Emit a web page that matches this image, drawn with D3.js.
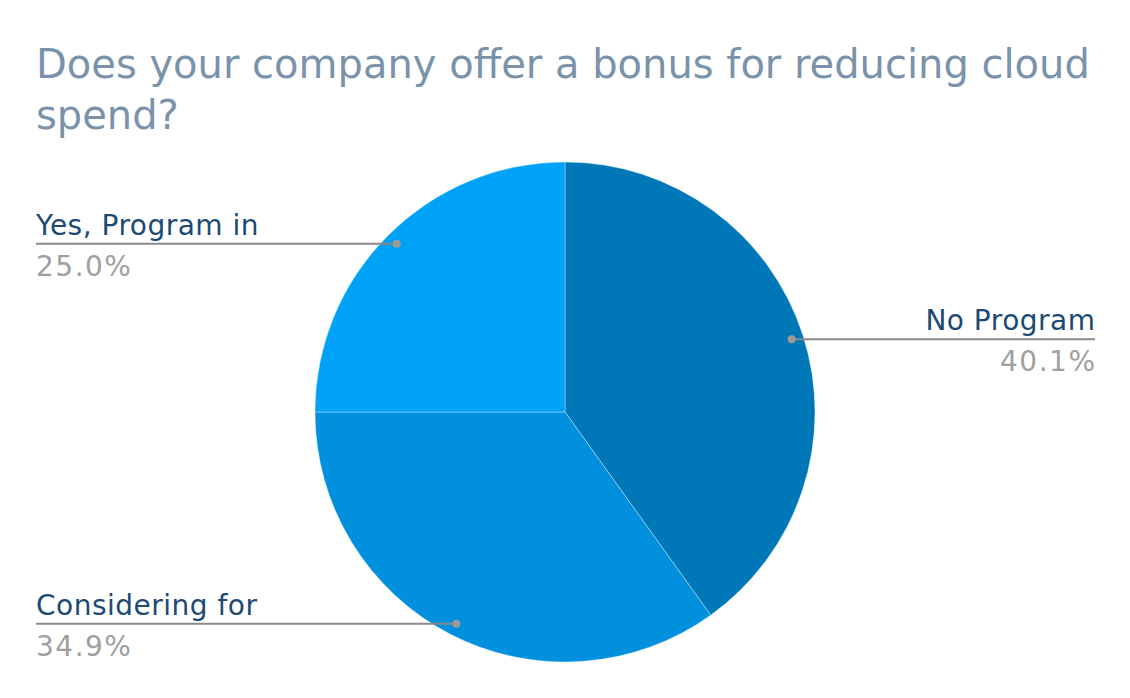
<!DOCTYPE html>
<html>
<head>
<meta charset="utf-8">
<script src="https://cdn.jsdelivr.net/npm/d3@7"></script>
<style>
  body { margin: 0; background: #fff; }
  text { font-family: "DejaVu Sans", Verdana, sans-serif; }
</style>
</head>
<body>
<script>
var w = 1130;
var h = 698;

var titleLines = ["Does your company offer a bonus for reducing cloud", "spend?"];
var categories = ["No Program", "Considering for", "Yes, Program in"];
var values = [40.1, 34.9, 25.0];
var colors = ["#0078b8", "#0090de", "#00a2f8"];

var cx = 565, cy = 412, radius = 250;

var svg = d3.select("body")
    .append("svg")
    .attr("width", w)
    .attr("height", h);

svg.selectAll("text.title")
    .data(titleLines)
    .enter()
    .append("text")
    .attr("class", "title")
    .attr("x", 36)
    .attr("y", function(d, i){ return 78 + i * 51; })
    .style("font-size", "40px")
    .style("fill", "#7a93ab")
    .text(function(d){ return d; });

var data = categories.map(function(c, i){
    return {name: c, value: values[i], color: colors[i]};
});

var pie = d3.pie()
    .sort(null)
    .value(function(d){ return d.value; });

var arc = d3.arc()
    .innerRadius(0)
    .outerRadius(radius);

var arcs = pie(data);

var g = svg.append("g")
    .attr("transform", "translate(" + cx + "," + cy + ")");

g.selectAll("path")
    .data(arcs)
    .enter()
    .append("path")
    .attr("d", arc)
    .attr("fill", function(d){ return d.data.color; })
    .attr("stroke", "#ffffff")
    .attr("stroke-opacity", 0.35)
    .attr("stroke-width", 1);

// labels go left or right depending on which half the slice middle is in
var fmt = d3.format(".1f");
arcs.forEach(function(a){
    var mid = (a.startAngle + a.endAngle) / 2;
    var px = cx + Math.sin(mid) * 238;
    var py = cy - Math.cos(mid) * 238;
    var right = Math.sin(mid) > 0;
    var x2 = right ? 1095 : 36;

    svg.append("line")
        .attr("x1", px).attr("y1", py)
        .attr("x2", x2).attr("y2", py)
        .attr("stroke", "#8a8a8a")
        .attr("stroke-width", 2);

    svg.append("circle")
        .attr("cx", px).attr("cy", py)
        .attr("r", 4)
        .attr("fill", "#9a9a9a");

    svg.append("text")
        .attr("x", right ? x2 + 0.5 : x2)
        .attr("y", py - 9)
        .attr("text-anchor", right ? "end" : "start")
        .style("font-size", "28px")
        .style("letter-spacing", "0.5px")
        .style("fill", "#1d4a73")
        .text(a.data.name);

    svg.append("text")
        .attr("x", right ? x2 + 1.5 : x2)
        .attr("y", py + 32)
        .attr("text-anchor", right ? "end" : "start")
        .style("font-size", "28px")
        .style("letter-spacing", "1.5px")
        .style("fill", "#a0a0a0")
        .text(fmt(a.data.value) + "%");
});
</script>
</body>
</html>
